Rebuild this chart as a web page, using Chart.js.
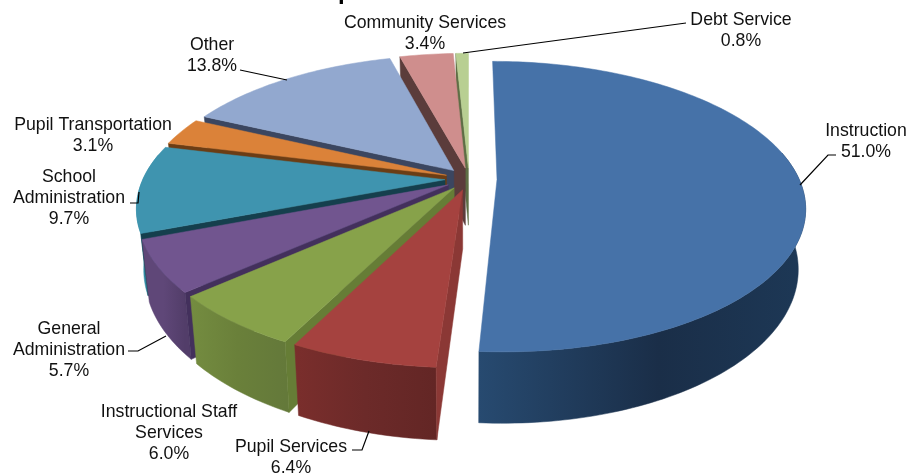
<!DOCTYPE html>
<html>
<head>
<meta charset="utf-8">
<style>
  html, body { margin: 0; padding: 0; background: #fff; }
  canvas { display: block; }
</style>
<script src="https://cdn.jsdelivr.net/npm/chart.js@4/dist/chart.umd.min.js"></script>
</head>
<body>
<canvas id="grafico" width="909" height="474"></canvas>
<script>
const categories = ["Instruction", "Pupil Services", "Instructional Staff Services", "General Administration",
  "School Administration", "Pupil Transportation", "Other", "Community Services", "Debt Service"];
const shares = [51.0, 6.4, 6.0, 5.7, 9.7, 3.1, 13.8, 3.4, 0.8];

// label lines as they wrap in the picture
const labelLines = [["Instruction"], ["Pupil Services"], ["Instructional Staff", "Services"], ["General", "Administration"],
  ["School", "Administration"], ["Pupil Transportation"], ["Other"], ["Community Services"], ["Debt Service"]];

// styling
const labelSpots = [[866, 131], [291, 447], [169, 412], [69, 329], [69, 177], [93, 125], [212, 45], [425, 23], [741, 20]];
const leaders = [
  [[800, 185], [828, 155], [836, 155]],
  [[352, 450], [362, 450], [369, 431]],
  [],
  [[128, 351], [138, 351], [166, 336]],
  [[130, 203], [138, 203], [139, 192]],
  [],
  [[240, 70], [287, 80]],
  [],
  [[463, 53], [686, 23]]
];
const topColors = ["#4672A8", "#A5423F", "#87A24A", "#71558F", "#3F94AF", "#DB8239", "#92A8CF", "#CF8E8D", "#B8CF92"];
const sideColors = [["#274A70", "#1A2E48", "#1D3856"], ["#7A2E2C", "#6C2A29", "#632625"], ["#748C40", "#6A803A", "#64793A"],
  ["#5F4778", "#5F4778", "#523D69"], ["#2F8BA5", "#2F8BA5", "#2F8BA5"], ["#A8642B", "#A8642B", "#A8642B"],
  ["#6F7F9D", "#6F7F9D", "#6F7F9D"], ["#9C6B6B", "#9C6B6B", "#9C6B6B"], ["#8C9D6F", "#8C9D6F", "#8C9D6F"]];
const wallColors = ["#1F3A58", "#8B3835", "#667D36", "#43305C", "#153F4D", "#6B3D15", "#3B4660", "#5B3C3B", "#5E6E45"];
const explode = [28, 24, 24, 24, 24, 24, 24, 24, 24];

const flatten = 140, perspective = 0.187, thickness = 58, bottomShrink = 0.978;

function project(arc, u, v, low) {
  const s = 1 / (1 + perspective * v);
  const x = arc.outerRadius * u * s;
  const y = -flatten * v * s;
  if (!low) return [arc.x + x, arc.y + y];
  return [arc.x + x * bottomShrink, arc.y + y + thickness * s];
}

function slicePoints(arc, off) {
  const mid = (arc.startAngle + arc.endAngle) / 2;
  const du = off / arc.outerRadius * Math.cos(mid), dv = -off / arc.outerRadius * Math.sin(mid);
  const rim = [], front = [];
  const steps = Math.max(2, Math.ceil((arc.endAngle - arc.startAngle) / 0.02));
  for (let i = 0; i <= steps; i++) {
    const a = arc.startAngle + (arc.endAngle - arc.startAngle) * i / steps;
    const p = [Math.cos(a) + du, -Math.sin(a) + dv];
    rim.push(p);
    // the back of the rim is hidden behind the top face
    if (-Math.sin(a) < 0.2) front.push(p);
  }
  return { rim, front, apex: [du, dv], midV: -Math.sin(mid) };
}

function fillPoly(ctx, pts, color) {
  ctx.beginPath();
  pts.forEach((p, i) => i ? ctx.lineTo(p[0], p[1]) : ctx.moveTo(p[0], p[1]));
  ctx.closePath();
  ctx.fillStyle = color;
  ctx.fill();
  ctx.strokeStyle = color;
  ctx.lineWidth = 0.5;
  ctx.stroke();
}

const pie3d = {
  id: "pie3d",
  beforeDatasetsDraw(chart) {
    const ctx = chart.ctx;
    const arcs = chart.getDatasetMeta(0).data;
    const order = arcs.map((arc, i) => ({ arc, i, parts: slicePoints(arc, explode[i]) }))
      .sort((a, b) => b.parts.midV - a.parts.midV);

    order.forEach(({ arc, i, parts }) => {
      const apexHi = project(arc, parts.apex[0], parts.apex[1], false);
      const apexLo = project(arc, parts.apex[0], parts.apex[1], true);
      const hi = parts.rim.map(p => project(arc, p[0], p[1], false));

      // outer wall
      if (parts.front.length > 1) {
        const fHi = parts.front.map(p => project(arc, p[0], p[1], false));
        const fLo = parts.front.map(p => project(arc, p[0], p[1], true));
        const xs = fHi.map(p => p[0]);
        const grad = ctx.createLinearGradient(Math.min(...xs), 0, Math.max(...xs), 0);
        grad.addColorStop(0, sideColors[i][0]);
        grad.addColorStop(i === 0 ? 0.55 : 0.5, sideColors[i][1]);
        grad.addColorStop(1, sideColors[i][2]);
        fillPoly(ctx, fHi.concat(fLo.slice().reverse()), grad);
      }

      // only the wall on the clockwise start side faces the viewer
      if (i > 0) {
        fillPoly(ctx, [apexHi, hi[0], project(arc, parts.rim[0][0], parts.rim[0][1], true), apexLo], wallColors[i]);
      }

      // top face
      fillPoly(ctx, [apexHi].concat(hi), topColors[i]);
    });

    // leader lines and labels
    ctx.strokeStyle = "#000";
    ctx.lineWidth = 1.2;
    leaders.forEach(line => {
      if (!line.length) return;
      ctx.beginPath();
      line.forEach((p, i) => i ? ctx.lineTo(p[0], p[1]) : ctx.moveTo(p[0], p[1]));
      ctx.stroke();
    });
    ctx.fillStyle = "#111";
    ctx.font = '17.7px "Liberation Sans"';
    ctx.textAlign = "center";
    ctx.textBaseline = "middle";
    labelLines.forEach((lines, i) => {
      const all = lines.concat(shares[i].toFixed(1) + "%");
      all.forEach((t, n) => ctx.fillText(t, labelSpots[i][0], labelSpots[i][1] + n * 21));
    });

    // title is cut off by the top of the image, only this descender shows
    ctx.fillStyle = "#000";
    ctx.font = 'bold 24px "Liberation Sans"';
    ctx.textBaseline = "alphabetic";
    ctx.textAlign = "left";
    ctx.fillText("p", 338, -1);
    return false;
  }
};

new Chart(document.getElementById("grafico"), {
  type: "pie",
  data: {
    labels: categories,
    datasets: [{ data: shares, backgroundColor: topColors, radius: 302, borderWidth: 0 }]
  },
  options: {
    responsive: false,
    animation: false,
    layout: { padding: { left: 29, bottom: 116 } },
    plugins: { legend: { display: false }, tooltip: { enabled: false }, title: { display: false } }
  },
  plugins: [pie3d]
});
</script>
</body>
</html>
